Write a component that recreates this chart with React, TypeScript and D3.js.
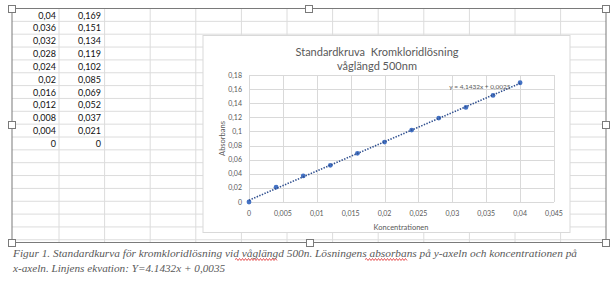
import React from "react";
import * as d3 from "d3";

const concentration = [0.04, 0.036, 0.032, 0.028, 0.024, 0.02, 0.016, 0.012, 0.008, 0.004, 0];
const absorbance = [0.169, 0.151, 0.134, 0.119, 0.102, 0.085, 0.069, 0.052, 0.037, 0.021, 0];
const concLabels = ["0,04", "0,036", "0,032", "0,028", "0,024", "0,02", "0,016", "0,012", "0,008", "0,004", "0"];
const absLabels = ["0,169", "0,151", "0,134", "0,119", "0,102", "0,085", "0,069", "0,052", "0,037", "0,021", "0"];
const xTicks = [0, 0.005, 0.01, 0.015, 0.02, 0.025, 0.03, 0.035, 0.04, 0.045];
const yTicks = [0, 0.02, 0.04, 0.06, 0.08, 0.1, 0.12, 0.14, 0.16, 0.18];
const trendSlope = 4.1432;
const trendIntercept = 0.0025;
const equationLabel = "y = 4,1432x + 0,0025";
const chartTitle = ["Standardkruva  Kromkloridlösning", "våglängd 500nm"];
const xTitle = "Koncentrationen";
const yTitle = "Absorbans";
const captionLine1 = "Figur 1. Standardkurva för kromkloridlösning vid våglängd 500n. Lösningens absorbans på y-axeln och koncentrationen på";
const captionLine2 = "x-axeln. Linjens ekvation: Y=4.1432x + 0,0035";

const fmt = (v: number) => (v === 0 ? "0" : String(+v.toFixed(3)).replace(".", ","));

export default function App() {
  const W = 615, H = 281;
  const frame = { l: 12, r: 606, t: 8.5, b: 242.5 };
  const rowTop = 8.5, rowH = 12.85;
  const rows = d3.range(0, 19).map((i) => rowTop + i * rowH);
  const colLines = d3.range(0, 12).map((i) => 59 + i * 45.6);
  const chartBox = { l: 203, r: 570, t: 35.5, b: 232.5 };

  const x = d3.scaleLinear().domain([0, 0.045]).range([249, 554]);
  const y = d3.scaleLinear().domain([0, 0.18]).range([202, 75]);

  const trend = d3.line<number>()
    .x((d) => x(d))
    .y((d) => y(trendSlope * d + trendIntercept));

  const handles = [
    [frame.l, frame.t], [309, frame.t], [frame.r, frame.t],
    [frame.l, 125], [frame.r, 125],
    [frame.l, frame.b], [310, frame.b], [frame.r, frame.b],
  ];

  const wavy = (x0: number, x1: number, yy: number) => {
    let p = `M${x0},${yy}`;
    let up = true;
    for (let xx = x0 + 1.5; xx <= x1; xx += 1.5) {
      p += ` L${xx},${yy + (up ? -1 : 1)}`;
      up = !up;
    }
    return p;
  };

  const font = "Lato, 'Open Sans', sans-serif";
  const serif = "'Liberation Serif', 'DejaVu Serif', serif";

  return (
    <svg width={W} height={H} style={{ position: "absolute", left: 0, top: 0, background: "#fff" }}>
      {/* spreadsheet grid */}
      {rows.map((r, i) => (
        <line key={"r" + i} x1={frame.l} x2={frame.r} y1={r} y2={r} stroke="#dcdcdc" strokeWidth={1} />
      ))}
      {colLines.map((c, i) => (
        <line key={"c" + i} x1={c} x2={c} y1={frame.t} y2={frame.b} stroke="#dcdcdc" strokeWidth={1} />
      ))}
      {concLabels.map((t, i) => (
        <text key={"a" + i} x={56} y={rowTop + i * rowH + 10} fontSize={9} fontFamily={font} textAnchor="end" fill="#111">{t}</text>
      ))}
      {absLabels.map((t, i) => (
        <text key={"b" + i} x={101} y={rowTop + i * rowH + 10} fontSize={9} fontFamily={font} textAnchor="end" fill="#111">{t}</text>
      ))}

      {/* chart box */}
      <rect x={chartBox.l} y={chartBox.t} width={chartBox.r - chartBox.l} height={chartBox.b - chartBox.t} fill="#fff" stroke="#d9d9d9" strokeWidth={1} />
      <text x={377} y={56} fontSize={11} fontFamily={font} textAnchor="middle" fill="#595959" style={{ whiteSpace: "pre" }}>{chartTitle[0]}</text>
      <text x={377} y={70} fontSize={11} fontFamily={font} textAnchor="middle" fill="#595959">{chartTitle[1]}</text>

      {/* gridlines */}
      {yTicks.map((t, i) => (
        <line key={"gy" + i} x1={x(0)} x2={x(0.045)} y1={Math.round(y(t)) + 0.5} y2={Math.round(y(t)) + 0.5} stroke="#d9d9d9" />
      ))}
      {xTicks.map((t, i) => (
        <line key={"gx" + i} x1={Math.round(x(t)) + 0.5} x2={Math.round(x(t)) + 0.5} y1={y(0.18)} y2={y(0)} stroke="#d9d9d9" />
      ))}
      {yTicks.map((t, i) => (
        <text key={"ty" + i} x={242} y={y(t) + 2.5} fontSize={7} fontFamily={font} textAnchor="end" fill="#595959">{fmt(t)}</text>
      ))}
      {xTicks.map((t, i) => (
        <text key={"tx" + i} x={x(t)} y={215.5} fontSize={7} fontFamily={font} textAnchor="middle" fill="#595959">{fmt(t)}</text>
      ))}
      <text x={401} y={229.5} fontSize={7.5} fontFamily={font} textAnchor="middle" fill="#595959">{xTitle}</text>
      <text transform={`translate(224.5,${y(0.09)}) rotate(-90)`} fontSize={7.5} fontFamily={font} textAnchor="middle" fill="#595959">{yTitle}</text>

      {/* points */}
      {concentration.map((c, i) => (
        <circle key={"p" + i} cx={x(c)} cy={y(absorbance[i])} r={2.4} fill="#4472C4" />
      ))}
      {/* trendline */}
      <path d={trend([0, 0.04]) || ""} fill="none" stroke="#2F4F8F" strokeWidth={1.6} strokeDasharray="1.4,1.4" />
      <text x={480} y={89} fontSize={6.5} fontFamily={font} textAnchor="middle" fill="#595959">{equationLabel}</text>

      {/* frame */}
      <rect x={frame.l} y={frame.t} width={frame.r - frame.l} height={frame.b - frame.t} fill="none" stroke="#7a7a7a" strokeWidth={1} />
      {handles.map(([hx, hy], i) => (
        <rect key={"h" + i} x={Math.round(hx) - 3.5} y={Math.round(hy) - 3.5} width={7} height={7} fill="#fff" stroke="#7a7a7a" strokeWidth={1} />
      ))}

      {/* caption */}
      <text x={13} y={257} fontSize={11.2} fontFamily={serif} fontStyle="italic" fill="#595959" textLength={564} lengthAdjust="spacingAndGlyphs">{captionLine1}</text>
      <text x={13} y={272} fontSize={11.2} fontFamily={serif} fontStyle="italic" fill="#595959">{captionLine2}</text>
      <path d={wavy(235, 278, 259.5)} fill="none" stroke="#e03030" strokeWidth={0.8} />
      <path d={wavy(365, 407, 259.5)} fill="none" stroke="#e03030" strokeWidth={0.8} />
    </svg>
  );
}
